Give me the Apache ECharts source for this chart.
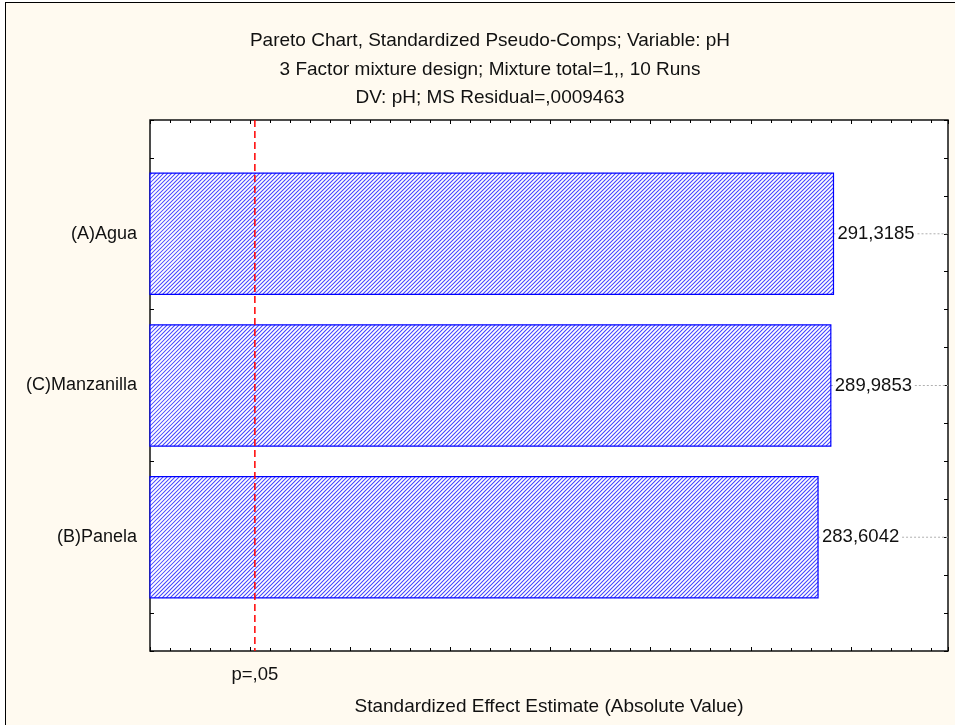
<!DOCTYPE html>
<html>
<head>
<meta charset="utf-8">
<title>Pareto Chart</title>
<script src="https://cdn.jsdelivr.net/npm/echarts@6/dist/echarts.min.js"></script>
<style>
  html, body { margin: 0; padding: 0; background: #ffffff; }
  #frame {
    position: absolute; left: 5px; top: 2px; width: 955px; height: 725px;
    background: #fffaf0; border-left: 1px solid #000; border-top: 1px solid #000;
  }
  #main { position: absolute; left: 0; top: 0; width: 955px; height: 725px; }
</style>
</head>
<body>
<div id="frame"></div>
<div id="main"></div>
<script>
// effects, top to bottom
const factors = ['(A)Agua', '(C)Manzanilla', '(B)Panela'];
const effects = [291.3185, 289.9853, 283.6042];
// critical t for p=.05
const pCrit = [2.365];
const pLabel = 'p=,05';

const xMin = -50, xMax = 348.5;
const yMin = -0.75, yMax = 2.75;

const barData = effects.map(function (v, i) { return [v, i]; });

// diagonal "/" hatch lines clipped to a rectangle (snapped so every bar looks alike)
function hatchLines(x0, y0, x1, y1, step) {
  let out = [];
  for (let c = Math.ceil(x0 + y0) + 1; c < x1 + y1; c += step) {
    let ax = Math.max(x0, c - y1), bx = Math.min(x1, c - y0);
    if (bx <= ax) continue;
    out.push({
      type: 'line',
      shape: { x1: ax, y1: c - ax, x2: bx, y2: c - bx },
      style: { stroke: '#4242ff', lineWidth: 1.05 }
    });
  }
  return out;
}

let chart = echarts.init(document.getElementById('main'), null, { renderer: 'canvas' });

function xAxisDef(pos) {
  return {
    type: 'value', position: pos, min: xMin, max: xMax, interval: 50,
    axisLine: { show: false, onZero: false },
    axisTick: { show: true, inside: true, length: 4, lineStyle: { color: '#000' } },
    minorTick: { show: true, splitNumber: 5, length: 3, lineStyle: { color: '#000' } },
    axisLabel: { show: false },
    splitLine: { show: false }
  };
}
function yAxisDef(pos, labels) {
  return {
    type: 'value', position: pos, inverse: true, min: yMin, max: yMax, interval: 0.25,
    axisLine: { show: false, onZero: false },
    axisTick: { show: true, inside: true, length: 4, lineStyle: { color: '#000' } },
    splitLine: { show: false },
    axisLabel: {
      show: labels, margin: 13, color: '#111', fontSize: 18, fontFamily: 'Liberation Sans, Arial',
      formatter: function (v) {
        let r = Math.round(v);
        return (Math.abs(v - r) < 1e-6 && factors[r]) ? factors[r] : '';
      }
    }
  };
}

let xa = xAxisDef('bottom');
xa.name = 'Standardized Effect Estimate (Absolute Value)';
xa.nameLocation = 'middle';
xa.nameGap = 46;
xa.nameTextStyle = { color: '#111', fontSize: 19, fontFamily: 'Liberation Sans, Arial' };

let option = {
  animation: false,
  title: {
    text: 'Pareto Chart, Standardized Pseudo-Comps; Variable: pH\n3 Factor mixture design; Mixture total=1,, 10 Runs\nDV: pH; MS Residual=,0009463',
    left: 485, top: 22, textAlign: 'center',
    textStyle: { color: '#111', fontSize: 19, fontWeight: 'normal', lineHeight: 28.5, fontFamily: 'Liberation Sans, Arial' }
  },
  grid: {
    left: 150, top: 120, width: 798, height: 531,
    show: true, backgroundColor: '#ffffff', borderColor: '#111', borderWidth: 1.5
  },
  xAxis: [xa, xAxisDef('top')],
  yAxis: [yAxisDef('left', true), yAxisDef('right', false)],
  series: [
    {
      type: 'custom',
      xAxisIndex: 0, yAxisIndex: 0,
      data: barData,
      renderItem: function (params, api) {
        let v = api.value(0), y = api.value(1);
        let s = api.coord([xMin, y]);
        let e = api.coord([v, y]);
        let h = api.size([0, 0.8])[1];
        let cs = params.coordSys;
        let txt = v.toFixed(4).replace('.', ',');
        let top = e[1] - h / 2;
        let kids = [
          {
            type: 'line',
            shape: { x1: e[0], y1: e[1], x2: cs.x + cs.width, y2: e[1] },
            style: { stroke: '#b0b0b0', lineWidth: 1, lineDash: [2, 2] }
          },
          {
            type: 'rect',
            shape: { x: s[0], y: top, width: e[0] - s[0], height: h },
            style: { fill: '#ffffff', stroke: null }
          }
        ];
        kids = kids.concat(hatchLines(s[0], top, e[0], top + h, 4));
        kids.push({
          type: 'rect',
          shape: { x: s[0], y: top, width: e[0] - s[0], height: h },
          style: { fill: null, stroke: '#0000ff', lineWidth: 1.2 }
        });
        kids.push({
          type: 'text',
          x: e[0] + 4, y: e[1],
          style: {
            text: txt, fill: '#111', font: '18.5px "Liberation Sans", Arial',
            verticalAlign: 'middle', align: 'left',
            backgroundColor: '#ffffff', padding: [0, 1, 0, 0]
          }
        });
        return { type: 'group', children: kids };
      }
    },
    {
      type: 'custom',
      xAxisIndex: 0, yAxisIndex: 0,
      data: pCrit.map(function (p) { return [p]; }),
      renderItem: function (params, api) {
        let p = api.value(0);
        let top = api.coord([p, yMin]);
        let bot = api.coord([p, yMax]);
        return {
          type: 'group',
          children: [
            {
              type: 'line',
              shape: { x1: top[0], y1: top[1], x2: bot[0], y2: bot[1] },
              style: { stroke: '#ff0000', lineWidth: 1.5, lineDash: [7, 4] }
            },
            {
              type: 'text',
              x: bot[0], y: bot[1] + 24,
              style: {
                text: pLabel, fill: '#111', font: '18.5px "Liberation Sans", Arial',
                align: 'center', verticalAlign: 'middle'
              }
            }
          ]
        };
      }
    }
  ]
};

chart.setOption(option);
</script>
</body>
</html>
